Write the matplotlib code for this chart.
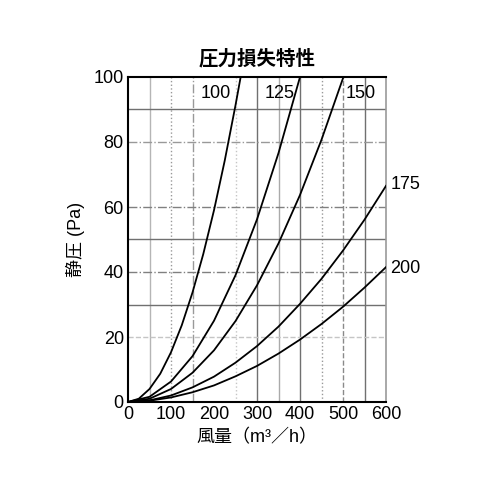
import matplotlib
matplotlib.use('Agg')
import matplotlib.pyplot as plt

plt.rcParams['font.family'] = ['Liberation Sans', 'Noto Sans CJK JP', 'DejaVu Sans']

# Data: airflow (m3/h) vs static pressure (Pa) per duct size
flow_100 = [0, 25, 50, 75, 100, 125, 150, 175, 200, 225, 250, 262]
pa_100 = [0, 1.0, 4.0, 8.7, 15.3, 23.6, 33.7, 45.5, 59.0, 74.3, 91.3, 100]

flow_125 = [0, 50, 100, 150, 200, 250, 300, 350, 400]
pa_125 = [0, 1.6, 6.3, 14.1, 25.0, 39.0, 56.2, 76.6, 100]

flow_150 = [0, 50, 100, 150, 200, 250, 300, 350, 400, 450, 501]
pa_150 = [0, 1.0, 4.0, 9.0, 15.9, 24.9, 35.9, 48.8, 63.7, 80.7, 100]

flow_175 = [0, 50, 100, 150, 200, 250, 300, 350, 400, 450, 500, 550, 600]
pa_175 = [0, 0.5, 2.0, 4.5, 7.8, 12.1, 17.2, 23.2, 30.2, 37.9, 46.6, 56.1, 66.5]

flow_200 = [0, 50, 100, 150, 200, 250, 300, 350, 400, 450, 500, 550, 600]
pa_200 = [0, 0.4, 1.4, 3.0, 5.1, 7.9, 11.1, 14.9, 19.2, 24.0, 29.3, 35.2, 41.5]

x_ticks = [0, 100, 200, 300, 400, 500, 600]
y_ticks = [0, 20, 40, 60, 80, 100]

fig = plt.figure(figsize=(5, 5), dpi=100)
ax = fig.add_axes([0.256, 0.196, 0.516, 0.65])

# grid lines (mixed styles like the scanned original)
vgrid = [(50, '-', '#b5b5b5'), (100, ':', '#999999'), (150, '-.', '#999999'),
         (250, ':', '#c5c5c5'), (300, '-', '#707070'), (350, '-', '#aaaaaa'),
         (400, '-', '#707070'), (450, ':', '#999999'), (500, '--', '#8a8a8a'),
         (550, '-', '#707070')]
for v, ls, c in vgrid:
    ax.axvline(v, color=c, ls=ls, lw=1.0, zorder=1)
hgrid = [(20, '--', '#c5c5c5'), (30, '-', '#707070'), (40, '-.', '#808080'),
         (50, '-', '#707070'), (60, '-.', '#808080'), (80, '-.', '#999999'),
         (90, '-', '#707070')]
for h, ls, c in hgrid:
    ax.axhline(h, color=c, ls=ls, lw=1.0, zorder=1)

for q, p in [(flow_100, pa_100), (flow_125, pa_125), (flow_150, pa_150),
             (flow_175, pa_175), (flow_200, pa_200)]:
    ax.plot(q, p, color='black', lw=1.3, zorder=3)

ax.set_xlim(0, 600)
ax.set_ylim(0, 100)
ax.set_xticks(x_ticks)
ax.set_yticks(y_ticks)
ax.tick_params(length=0, labelsize=13, pad=3)

for s in ['left', 'bottom', 'top']:
    ax.spines[s].set_color('black')
    ax.spines[s].set_linewidth(1.5)
ax.spines['right'].set_color('#999999')
ax.spines['right'].set_linewidth(1.2)

# size labels
ax.text(205, 95, '100', ha='center', va='center', fontsize=13)
ax.text(352, 95, '125', ha='center', va='center', fontsize=13)
ax.text(541, 95, '150', ha='center', va='center', fontsize=13)
ax.text(610, 67, '175', ha='left', va='center', fontsize=13, clip_on=False)
ax.text(610, 41, '200', ha='left', va='center', fontsize=13, clip_on=False)

ax.set_title('圧力損失特性', fontsize=14, fontweight='bold', pad=9)
ax.set_xlabel('風量（m³／h）', fontsize=13, labelpad=4)
ax.set_ylabel('静圧 (Pa)', fontsize=13, labelpad=6)

fig.savefig('out.png', dpi=100)
